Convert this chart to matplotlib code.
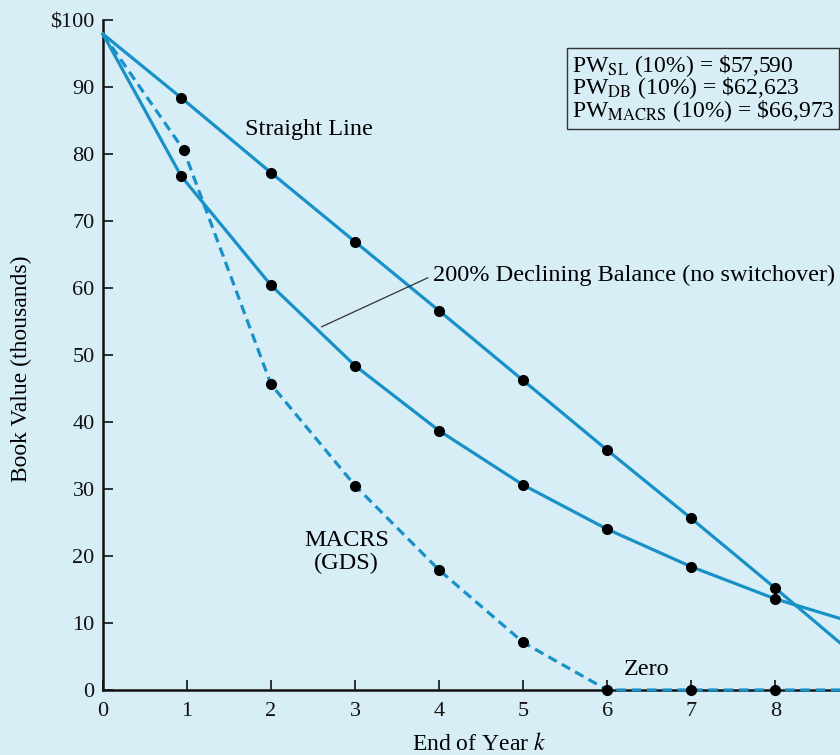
import matplotlib
matplotlib.use("Agg")
import matplotlib.pyplot as plt

plt.rcParams['font.family'] = ['Liberation Serif', 'DejaVu Serif']
plt.rcParams['mathtext.fontset'] = 'stix'

# book values (thousands of $)
sl_years = [0, 0.93, 2, 3, 4, 5, 6, 7, 8, 9]
sl_values = [97.9, 88.4, 77.2, 66.9, 56.6, 46.2, 35.8, 25.6, 15.2, 4.6]

db_years = [0, 0.93, 2, 3, 4, 5, 6, 7, 8, 9]
db_values = [97.9, 76.7, 60.4, 48.4, 38.7, 30.6, 24.0, 18.4, 13.6, 9.8]

macrs_years = [0, 0.96, 2, 3, 4, 5, 6, 7, 8, 9]
macrs_values = [97.9, 80.6, 45.6, 30.5, 17.9, 7.1, 0, 0, 0, 0]

y_ticks = [0, 10, 20, 30, 40, 50, 60, 70, 80, 90, 100]
y_ticklabels = ['0', '10', '20', '30', '40', '50', '60', '70', '80', '90', '$100']
x_ticks = [0, 1, 2, 3, 4, 5, 6, 7, 8]

pw_lines = [r'PW$_{\rm SL}$ (10%) = \$57,590',
            r'PW$_{\rm DB}$ (10%) = \$62,623',
            r'PW$_{\rm MACRS}$ (10%) = \$66,973']

bg = '#d8eef7'
blue = '#1791c8'

fig = plt.figure(figsize=(8.4, 7.55), dpi=100, facecolor=bg)
ax = fig.add_axes([0.1226, 0.0861, 0.8774, 0.8874], facecolor=bg)

marks = list(range(1, 9))
ax.plot(sl_years, sl_values, color=blue, lw=2.3, marker='o', ms=7, mfc='black', mec='black',
        markevery=marks, zorder=3, clip_on=False)
ax.plot(db_years, db_values, color=blue, lw=2.3, marker='o', ms=7, mfc='black', mec='black',
        markevery=marks, zorder=3, clip_on=False)
ax.plot(macrs_years, macrs_values, color=blue, lw=2.3, ls=(0, (3, 1.8)), marker='o', ms=7,
        mfc='black', mec='black', markevery=marks, zorder=3, clip_on=False)

ax.set_xlim(0, 8.77)
ax.set_ylim(0, 100)

for s in ['top', 'right']:
    ax.spines[s].set_visible(False)
for s in ['left', 'bottom']:
    ax.spines[s].set_linewidth(1.8)
    ax.spines[s].set_color('#111111')

ax.set_yticks(y_ticks)
ax.set_yticklabels(y_ticklabels)
ax.set_xticks(x_ticks)
ax.tick_params(direction='in', length=7, width=1.2, labelsize=16, colors='#111111')
ax.tick_params(axis='y', pad=6)
ax.tick_params(axis='x', pad=9)

ax.text(-0.11, 0.48, 'Book Value (thousands)', rotation=90, transform=ax.transAxes,
        ha='center', va='center', fontsize=17)
ax.text(0.51, -0.081, r'End of Year $k$', transform=ax.transAxes,
        ha='center', va='center', fontsize=17)

ax.text(1.69, 83.6, 'Straight Line', ha='left', va='center', fontsize=17.5)
ax.annotate('200% Declining Balance (no switchover)', xy=(2.60, 54.2), xytext=(3.93, 61.9),
            ha='left', va='center', fontsize=17.5,
            arrowprops=dict(arrowstyle='-', color='#333333', lw=0.9, shrinkA=2, shrinkB=0,
                            relpos=(0, 0.5)))
ax.text(2.90, 20.6, 'MACRS\n(GDS)', ha='center', va='center', fontsize=17.5, linespacing=1.12)
ax.text(6.47, 3.0, 'Zero', ha='center', va='center', fontsize=17.5)

fig.text(0.681, 0.883, '\n'.join(pw_lines), ha='left', va='center', fontsize=17,
         linespacing=0.82,
         bbox=dict(boxstyle='square,pad=0.2', fc=bg, ec='#333333', lw=1.0))

fig.savefig('out.png', dpi=100, facecolor=bg)
